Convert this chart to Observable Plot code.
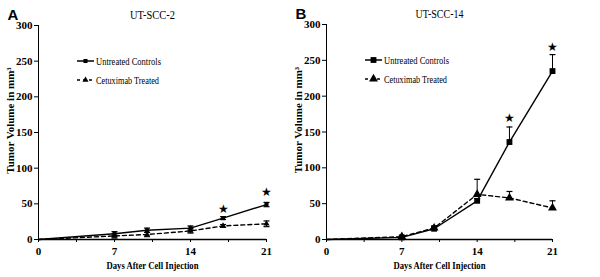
<!DOCTYPE html>
<html><head><meta charset="utf-8">
<script src="https://cdn.jsdelivr.net/npm/d3@7"></script>
<script src="https://cdn.jsdelivr.net/npm/@observablehq/plot@0.6"></script>
<style>
body{margin:0;background:#fff}
#wrap{display:flex;width:600px;height:277px;background:#fff}
</style></head><body><div id="wrap"></div>
<script>
const days = [0, 7, 10, 14, 17, 21];
const untreatedA = [0, 8, 13, 16, 30, 49];
const untreatedErrA = [0, 3, 3, 3, 2, 3];
const treatedA = [0, 5, 7, 12, 19, 22];
const treatedErrA = [0, 3, 3, 3, 2, 4];
const starDaysA = [17, 21];
const starValsA = [43, 66];

const untreatedB = [0, 3, 15, 54, 136, 235];
const untreatedErrB = [0, 1, 3, 3, 21, 23];
const treatedB = [0, 4, 16, 63, 58, 44];
const treatedErrB = [0, 1, 3, 21, 9, 10];
const starDaysB = [17, 21];
const starValsB = [169, 268];

const xTicks = [0, 3.5, 7, 10.5, 14, 17.5, 21];
const xLabels = [0, 7, 14, 21];
const yTicks = [0, 50, 100, 150, 200, 250, 300];
const seriesNames = ["Untreated Controls", "Cetuximab Treated"];
const titles = ["UT-SCC-2", "UT-SCC-14"];
const letters = ["A", "B"];
const xTitle = "Days After Cell Injection";
const yTitle = "Tumor Volume in mm³";

const serif = "'Liberation Serif', 'Times New Roman', serif";
const sans = "'Liberation Sans', Arial, sans-serif";

const capSymbol = {draw(ctx) { ctx.moveTo(-3, 0); ctx.lineTo(3, 0); }};

function rows(vals, errs) { return days.map((d, i) => ({day: d, v: vals[i], e: errs[i]})); }

function legendMark(r) {
  return (index, scales, values, dims) => {
    const g = d3.create("svg:g").attr("font-family", serif).attr("font-size", 11).attr("text-anchor", "start");
    const x0 = dims.marginLeft + 39;
    const ys = [dims.marginTop + 36, dims.marginTop + 55];
    seriesNames.forEach((name, i) => {
      const y = ys[i];
      g.append("line").attr("x1", x0).attr("x2", x0 + 17).attr("y1", y).attr("y2", y)
        .attr("stroke", "#000").attr("stroke-width", 1.5)
        .attr("stroke-dasharray", i ? "3,3" : null);
      g.append("path").attr("transform", `translate(${x0 + 8.5},${y})`)
        .attr("d", d3.symbol(i ? d3.symbolTriangle : d3.symbolSquare, Math.PI * r * r)());
      g.append("text").attr("x", x0 + 19).attr("y", y).attr("dy", "0.32em")
        .attr("fill", "#000").attr("text-anchor", "start").text(name);
    });
    return g.node();
  };
}

function panel({k, untreated, uErr, treated, tErr, starDays, starVals, width, marginRight, marginTop, r, symmetric}) {
  const U = rows(untreated, uErr), T = rows(treated, tErr);
  const pts = d => d.filter(p => p.day > 0);
  const err = d => pts(d).filter(p => p.e > 0);
  const lo = p => symmetric ? p.v - p.e : p.v;
  const hi = p => p.v + p.e;
  const errMarks = (D) => [
    Plot.ruleX(err(D), {x: "day", y1: lo, y2: hi, stroke: "#000", strokeWidth: 1}),
    Plot.dot(err(D), {x: "day", y: hi, symbol: capSymbol, stroke: "#000", strokeWidth: 1.2}),
    ...(symmetric ? [Plot.dot(err(D), {x: "day", y: lo, symbol: capSymbol, stroke: "#000", strokeWidth: 1.2})] : [])
  ];
  return Plot.plot({
    width, height: 277, marginLeft: 38, marginRight, marginTop, marginBottom: 38,
    x: {domain: [0, 21]}, y: {domain: [0, 300]},
    style: {fontFamily: serif, fontSize: "11px", color: "#000", background: "#fff", overflow: "visible"},
    marks: [
      Plot.axisY({ticks: yTicks, tickSize: 4, tickPadding: 2, fontWeight: "bold", label: null}),
      Plot.axisX({ticks: xTicks, tickSize: 3, tickPadding: 5, fontWeight: "bold", tickFormat: d => xLabels.includes(d) ? d : "", label: null}),
      Plot.ruleX([0], {y1: 0, y2: 300, stroke: "#000"}),
      Plot.ruleY([0], {stroke: "#000", strokeWidth: 1.5}),
      ...errMarks(T),
      ...errMarks(U),
      Plot.line(T, {x: "day", y: "v", stroke: "#000", strokeWidth: 1.4, strokeDasharray: "4,3"}),
      Plot.line(U, {x: "day", y: "v", stroke: "#000", strokeWidth: 1.4}),
      Plot.dot(pts(T), {x: "day", y: "v", symbol: "triangle", r, fill: "#000"}),
      Plot.dot(pts(U), {x: "day", y: "v", symbol: "square", r, fill: "#000"}),
      Plot.text(starDays.map((d, i) => ({day: d, v: starVals[i]})), {x: "day", y: "v", text: () => "★", fontSize: 12, fill: "#000"}),
      Plot.text([titles[k]], {frameAnchor: "top", dy: -15, fontSize: 12, fill: "#000"}),
      Plot.text([letters[k]], {frameAnchor: "top-left", dx: -31, dy: -16, fontSize: 15, fontWeight: "bold", fontFamily: sans, fill: "#000"}),
      Plot.text([xTitle], {frameAnchor: "bottom", dy: 29, fontSize: 11, fontWeight: "bold", fill: "#000"}),
      Plot.text([yTitle], {frameAnchor: "left", textAnchor: "middle", dx: -28, dy: -12, rotate: -90, fontSize: 11, fontWeight: "bold", fill: "#000"}),
      legendMark(r)
    ]
  });
}

const wrap = document.getElementById("wrap");
wrap.append(panel({k: 0, untreated: untreatedA, uErr: untreatedErrA, treated: treatedA, tErr: treatedErrA,
  starDays: starDaysA, starVals: starValsA, width: 288, marginRight: 22, marginTop: 25, r: 2.3, symmetric: true}));
wrap.append(panel({k: 1, untreated: untreatedB, uErr: untreatedErrB, treated: treatedB, tErr: treatedErrB,
  starDays: starDaysB, starVals: starValsB, width: 312, marginRight: 48, marginTop: 24, r: 3.3, symmetric: false}));

const targets = {"Days After Cell Injection": 92, "UT-SCC-2": 45, "UT-SCC-14": 48,
  "Untreated Controls": 65, "Cetuximab Treated": 63};
document.querySelectorAll("svg text").forEach(t => {
  const w = targets[t.textContent];
  if (!w) return;
  t.setAttribute("textLength", w);
  t.setAttribute("lengthAdjust", "spacingAndGlyphs");
});
</script></body></html>
